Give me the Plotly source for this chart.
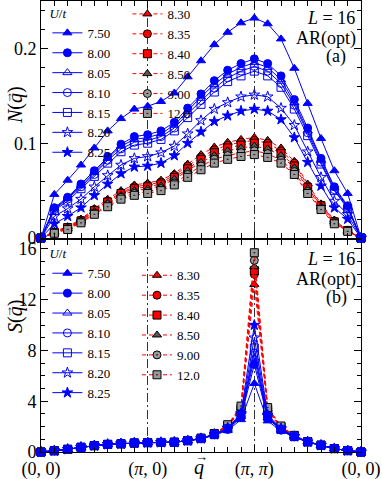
import plotly.graph_objects as go

# path index along (0,0) -> (pi,0) -> (pi,pi) -> (0,0), L = 16
q_idx = list(range(25))
q_tickvals = [0, 8, 16, 24]
q_ticktext = ["(0, 0)", "(<i>π</i>, 0)", "(<i>π</i>, <i>π</i>)", "(0, 0)"]

u_labels = ["7.50", "8.00", "8.05", "8.10", "8.15", "8.20", "8.25",
            "8.30", "8.35", "8.40", "8.50", "9.00", "12.0"]

# N(q) - momentum distribution of doublon-holon (panel a)
N_750 = [0, 0.046, 0.061, 0.077, 0.095, 0.113, 0.126, 0.136, 0.139, 0.144, 0.153, 0.170, 0.187,
         0.204, 0.217, 0.227, 0.232, 0.226, 0.210, 0.179, 0.142, 0.105, 0.071, 0.047, 0]
N_800 = [0, 0.032, 0.043, 0.057, 0.071, 0.086, 0.099, 0.107, 0.109, 0.113, 0.122, 0.137, 0.152,
         0.166, 0.177, 0.184, 0.189, 0.184, 0.171, 0.146, 0.116, 0.084, 0.054, 0.034, 0]
N_805 = [0, 0.031, 0.042, 0.055, 0.069, 0.084, 0.097, 0.104, 0.106, 0.110, 0.119, 0.134, 0.149,
         0.162, 0.173, 0.180, 0.185, 0.180, 0.167, 0.143, 0.113, 0.082, 0.053, 0.033, 0]
N_810 = [0, 0.030, 0.041, 0.054, 0.067, 0.082, 0.094, 0.101, 0.103, 0.107, 0.116, 0.131, 0.145,
         0.158, 0.169, 0.176, 0.181, 0.176, 0.163, 0.140, 0.111, 0.080, 0.051, 0.032, 0]
N_815 = [0, 0.029, 0.039, 0.052, 0.065, 0.079, 0.091, 0.098, 0.100, 0.104, 0.113, 0.127, 0.141,
         0.154, 0.165, 0.171, 0.176, 0.171, 0.159, 0.136, 0.108, 0.078, 0.050, 0.031, 0]
N_820 = [0, 0.023, 0.031, 0.041, 0.054, 0.066, 0.077, 0.084, 0.086, 0.090, 0.097, 0.110, 0.124,
         0.136, 0.143, 0.149, 0.151, 0.149, 0.137, 0.119, 0.091, 0.064, 0.039, 0.025, 0]
N_825 = [0, 0.015, 0.023, 0.032, 0.045, 0.057, 0.068, 0.075, 0.076, 0.079, 0.087, 0.100, 0.112,
         0.123, 0.129, 0.134, 0.136, 0.134, 0.125, 0.106, 0.080, 0.055, 0.032, 0.020, 0]
N_830 = [0, 0.007, 0.012, 0.020, 0.031, 0.041, 0.050, 0.056, 0.058, 0.061, 0.068, 0.078, 0.088,
         0.096, 0.101, 0.104, 0.106, 0.103, 0.095, 0.081, 0.057, 0.036, 0.019, 0.008, 0]
N_835 = [0, 0.006, 0.011, 0.019, 0.030, 0.039, 0.048, 0.054, 0.056, 0.059, 0.066, 0.076, 0.085,
         0.093, 0.098, 0.101, 0.103, 0.100, 0.092, 0.079, 0.055, 0.035, 0.018, 0.008, 0]
N_840 = [0, 0.006, 0.011, 0.018, 0.029, 0.038, 0.047, 0.052, 0.054, 0.057, 0.064, 0.073, 0.083,
         0.090, 0.095, 0.098, 0.100, 0.097, 0.089, 0.076, 0.053, 0.034, 0.017, 0.008, 0]
N_850 = [0, 0.006, 0.010, 0.018, 0.028, 0.037, 0.045, 0.050, 0.052, 0.055, 0.062, 0.071, 0.080,
         0.087, 0.092, 0.095, 0.097, 0.094, 0.087, 0.074, 0.052, 0.033, 0.017, 0.007, 0]
N_900 = [0, 0.005, 0.010, 0.017, 0.026, 0.035, 0.043, 0.047, 0.049, 0.052, 0.058, 0.067, 0.076,
         0.083, 0.087, 0.090, 0.092, 0.089, 0.082, 0.070, 0.049, 0.031, 0.016, 0.007, 0]
N_1200 = [0, 0.005, 0.009, 0.016, 0.025, 0.033, 0.041, 0.045, 0.047, 0.050, 0.056, 0.064, 0.072,
          0.079, 0.083, 0.086, 0.088, 0.085, 0.079, 0.067, 0.047, 0.030, 0.015, 0.007, 0]

# S(q) - spin structure factor (panel b)
S_750 = [0, 0.10, 0.21, 0.37, 0.50, 0.60, 0.65, 0.71, 0.74, 0.75, 0.77, 0.88, 1.03,
         1.33, 1.70, 2.55, 5.4, 2.45, 1.65, 1.17, 0.78, 0.52, 0.27, 0.11, 0]
S_800 = [0, 0.10, 0.21, 0.37, 0.50, 0.60, 0.65, 0.71, 0.74, 0.75, 0.77, 0.89, 1.04,
         1.35, 1.78, 2.75, 6.9, 2.65, 1.72, 1.19, 0.79, 0.53, 0.27, 0.11, 0]
S_805 = [0, 0.10, 0.21, 0.37, 0.50, 0.60, 0.65, 0.71, 0.74, 0.75, 0.77, 0.89, 1.05,
         1.36, 1.80, 2.80, 7.4, 2.70, 1.75, 1.20, 0.79, 0.53, 0.27, 0.11, 0]
S_810 = [0, 0.10, 0.21, 0.37, 0.50, 0.60, 0.65, 0.71, 0.74, 0.75, 0.77, 0.89, 1.05,
         1.37, 1.82, 2.85, 7.8, 2.74, 1.77, 1.21, 0.79, 0.53, 0.27, 0.11, 0]
S_815 = [0, 0.10, 0.21, 0.37, 0.50, 0.60, 0.65, 0.71, 0.74, 0.75, 0.77, 0.89, 1.05,
         1.37, 1.84, 2.90, 8.2, 2.78, 1.79, 1.21, 0.79, 0.53, 0.27, 0.11, 0]
S_820 = [0, 0.10, 0.21, 0.37, 0.50, 0.60, 0.65, 0.71, 0.74, 0.75, 0.77, 0.89, 1.06,
         1.38, 1.86, 2.95, 9.0, 2.82, 1.81, 1.22, 0.80, 0.53, 0.27, 0.11, 0]
S_825 = [0, 0.10, 0.21, 0.37, 0.50, 0.60, 0.65, 0.71, 0.74, 0.75, 0.77, 0.90, 1.06,
         1.40, 1.90, 3.05, 10.0, 2.92, 1.85, 1.23, 0.80, 0.53, 0.27, 0.11, 0]
S_830 = [0, 0.10, 0.21, 0.37, 0.50, 0.60, 0.65, 0.71, 0.74, 0.75, 0.77, 0.90, 1.07,
         1.42, 2.00, 3.30, 13.2, 3.20, 1.92, 1.27, 0.81, 0.54, 0.27, 0.11, 0]
S_835 = [0, 0.10, 0.21, 0.37, 0.50, 0.60, 0.65, 0.71, 0.74, 0.75, 0.77, 0.90, 1.07,
         1.43, 2.02, 3.38, 14.0, 3.28, 1.95, 1.28, 0.81, 0.54, 0.27, 0.11, 0]
S_840 = [0, 0.10, 0.21, 0.37, 0.50, 0.60, 0.65, 0.71, 0.74, 0.75, 0.77, 0.90, 1.08,
         1.43, 2.04, 3.42, 14.3, 3.32, 1.97, 1.28, 0.81, 0.54, 0.27, 0.11, 0]
S_850 = [0, 0.10, 0.21, 0.37, 0.50, 0.60, 0.65, 0.71, 0.74, 0.75, 0.77, 0.90, 1.08,
         1.44, 2.06, 3.48, 14.6, 3.38, 1.99, 1.29, 0.82, 0.54, 0.27, 0.11, 0]
S_900 = [0, 0.10, 0.21, 0.37, 0.50, 0.60, 0.65, 0.71, 0.74, 0.75, 0.77, 0.90, 1.08,
         1.45, 2.10, 3.55, 15.1, 3.44, 2.02, 1.30, 0.82, 0.54, 0.27, 0.11, 0]
S_1200 = [0, 0.10, 0.21, 0.37, 0.50, 0.60, 0.65, 0.71, 0.74, 0.75, 0.77, 0.90, 1.09,
          1.46, 2.15, 3.62, 15.7, 3.50, 2.05, 1.31, 0.82, 0.54, 0.27, 0.11, 0]

N_all = [N_750, N_800, N_805, N_810, N_815, N_820, N_825,
         N_830, N_835, N_840, N_850, N_900, N_1200]
S_all = [S_750, S_800, S_805, S_810, S_815, S_820, S_825,
         S_830, S_835, S_840, S_850, S_900, S_1200]

BLUE = "#0000ff"
RED = "#ff0000"
# marker style for each U/t
styles = [
    dict(symbol="triangle-up", color=BLUE, line=dict(color=BLUE, width=1)),
    dict(symbol="circle", color=BLUE, line=dict(color=BLUE, width=1)),
    dict(symbol="triangle-up-open", color=BLUE, line=dict(color=BLUE, width=1)),
    dict(symbol="circle-open", color=BLUE, line=dict(color=BLUE, width=1)),
    dict(symbol="square-open", color=BLUE, line=dict(color=BLUE, width=1)),
    dict(symbol="star-open", color=BLUE, line=dict(color=BLUE, width=1)),
    dict(symbol="star", color=BLUE, line=dict(color=BLUE, width=1)),
    dict(symbol="triangle-up", color=RED, line=dict(color="black", width=1)),
    dict(symbol="circle", color=RED, line=dict(color="black", width=1)),
    dict(symbol="square", color=RED, line=dict(color="black", width=1)),
    dict(symbol="triangle-up", color="#555555", line=dict(color="black", width=1)),
    dict(symbol="circle-dot", color="#999999", line=dict(color="black", width=1)),
    dict(symbol="square-dot", color="#999999", line=dict(color="black", width=1)),
]

SERIF = "Liberation Serif"
fig = go.Figure()

# red group first so the blue curves sit on top
order = list(range(7, 13)) + list(range(0, 7))
for panel, data, (xa, ya), legs in [
    ("a", N_all, ("x", "y"), ("legend", "legend2")),
    ("b", S_all, ("x2", "y2"), ("legend3", "legend4")),
]:
    for k in order:
        blue = k < 7
        fig.add_trace(go.Scatter(
            x=q_idx, y=data[k], xaxis=xa, yaxis=ya,
            mode="lines+markers", name=u_labels[k],
            legend=legs[0] if blue else legs[1],
            line=dict(color=BLUE if blue else RED, width=1,
                      dash="solid" if blue else "4px,3px"),
            marker=dict(size=8, **styles[k]),
            cliponaxis=False,
        ))

xaxis_common = dict(
    range=[0, 24], tickmode="array", tickvals=q_tickvals,
    ticks="inside", ticklen=7, tickcolor="black",
    minor=dict(dtick=1, tick0=0, ticks="inside", ticklen=5, tickcolor="black", showgrid=False),
    showline=True, linecolor="black", linewidth=1, mirror="ticks",
    showgrid=True, gridcolor="#333333", gridwidth=1, griddash="9px,3px,2px,3px",
    zeroline=False, tickfont=dict(family=SERIF, size=18, color="black"),
)
yaxis_common = dict(
    ticks="inside", ticklen=7, tickcolor="black",
    showline=True, linecolor="black", linewidth=1, mirror="ticks",
    showgrid=False, zeroline=False,
    tickfont=dict(family=SERIF, size=18, color="black"),
)

fig.update_layout(
    width=382, height=479,
    margin=dict(l=41, r=21, t=1, b=27, autoexpand=False),
    paper_bgcolor="white", plot_bgcolor="white",
    font=dict(family=SERIF, size=18, color="black"),
    xaxis=dict(xaxis_common, domain=[0, 1], anchor="y", showticklabels=False),
    yaxis=dict(yaxis_common, domain=[0.4745, 1], anchor="x", range=[0, 0.25],
               tickvals=[0, 0.1, 0.2], ticktext=["0", "0.1", "0.2"],
               minor=dict(dtick=0.02, ticks="inside", ticklen=4, tickcolor="black")),
    xaxis2=dict(xaxis_common, domain=[0, 1], anchor="y2", ticktext=q_ticktext),
    yaxis2=dict(yaxis_common, domain=[0, 0.470], anchor="x2", range=[0, 16.7],
                tickvals=[0, 4, 8, 12, 16],
                minor=dict(dtick=1, ticks="inside", ticklen=4, tickcolor="black")),
    showlegend=True,
)


def px_x(p):
    return (p - 41) / 320


def px_y(p):
    return (452 - p) / 451


leg_font = dict(family=SERIF, size=13, color="black")
leg_common = dict(bgcolor="rgba(0,0,0,0)", borderwidth=0, font=leg_font,
                  itemwidth=30, tracegroupgap=0, xanchor="left", yanchor="top")
fig.update_layout(
    legend=dict(leg_common, x=0.02, y=1.0,
                title=dict(text="<i>U</i>/<i>t</i>", font=leg_font)),
    legend2=dict(leg_common, x=0.27, y=1.0045),
    legend3=dict(leg_common, x=0.02, y=0.467,
                 title=dict(text="<i>U</i>/<i>t</i>", font=leg_font)),
    legend4=dict(leg_common, x=0.30, y=0.425),
)

# panel texts
txt_font = dict(family=SERIF, size=18, color="black")
for y_l, y_ar, y_tag, tag in [(18, 38, 57, "(a)"), (259, 279, 298, "(b)")]:
    fig.add_annotation(xref="paper", yref="paper", x=px_x(357), y=px_y(y_l), xanchor="right",
                       yanchor="middle", text="<i>L</i> = 16", showarrow=False, font=txt_font)
    fig.add_annotation(xref="paper", yref="paper", x=px_x(358), y=px_y(y_ar), xanchor="right",
                       yanchor="middle", text="AR(opt)", showarrow=False, font=txt_font)
    fig.add_annotation(xref="paper", yref="paper", x=px_x(336), y=px_y(y_tag), xanchor="center",
                       yanchor="middle", text=tag, showarrow=False, font=txt_font)

# axis labels, with a small arrow drawn over the q
lab_font = dict(family=SERIF, size=20, color="black")
arr_font = dict(family=SERIF, size=13, color="black")
for name, yc, yq in [("N", 105, 98), ("S", 317, 312)]:
    fig.add_annotation(xref="paper", yref="paper", x=px_x(15), y=px_y(yc), xanchor="center",
                       yanchor="middle", text="<i>%s</i>(<i>q</i>)" % name, textangle=-90,
                       showarrow=False, font=lab_font)
    fig.add_annotation(xref="paper", yref="paper", x=px_x(7), y=px_y(yq), xanchor="center",
                       yanchor="middle", text="\u2192", textangle=-90, showarrow=False,
                       font=arr_font)
fig.add_annotation(xref="paper", yref="paper", x=px_x(199), y=px_y(467), xanchor="center",
                   yanchor="middle", text="<i>q</i>", showarrow=False, font=lab_font)
fig.add_annotation(xref="paper", yref="paper", x=px_x(201), y=px_y(457), xanchor="center",
                   yanchor="middle", text="\u2192", showarrow=False, font=arr_font)

fig.write_html("out.html", config={"displayModeBar": False},
               post_script="document.body.style.margin='0';")
